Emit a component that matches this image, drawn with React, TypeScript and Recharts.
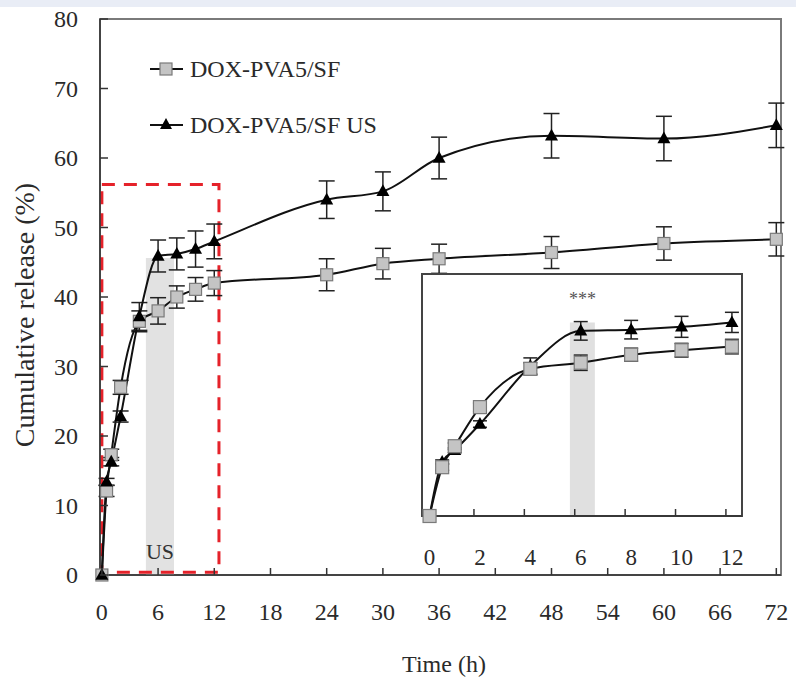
import { ComposedChart, Line, XAxis, YAxis, ErrorBar, ReferenceArea, Legend, Label } from 'recharts';

// cumulative DOX release
const times = [0, 0.5, 1, 2, 4, 6, 8, 10, 12, 24, 30, 36, 48, 60, 72];
const sfRelease = [0, 12.1, 17.3, 27.0, 36.5, 38.0, 40.0, 41.1, 42.0, 43.2, 44.8, 45.5, 46.4, 47.7, 48.3];
const sfError = [0, 0.8, 0.8, 1.0, 1.5, 1.9, 1.6, 1.7, 1.8, 2.3, 2.2, 2.1, 2.3, 2.4, 2.4];
const usRelease = [0, 13.4, 16.3, 22.8, 37.2, 45.9, 46.2, 46.9, 48.0, 54.0, 55.2, 60.0, 63.2, 62.8, 64.7];
const usError = [0, 0.5, 0.6, 0.8, 2.0, 2.3, 2.3, 2.6, 2.5, 2.7, 2.8, 3.0, 3.2, 3.2, 3.2];

const mainTicksX = [0, 6, 12, 18, 24, 30, 36, 42, 48, 54, 60, 66, 72];
const mainTicksY = [0, 10, 20, 30, 40, 50, 60, 70, 80];
const insetTicksX = [0, 2, 4, 6, 8, 10, 12];
const seriesNames = ['DOX-PVA5/SF', 'DOX-PVA5/SF US'];

const data = times.map((t, i) => ({
    time: t,
    sf: sfRelease[i],
    sfErr: sfError[i],
    us: usRelease[i],
    usErr: usError[i],
}));
const insetData = data.filter(d => d.time <= 12);

const FONT = '"Liberation Serif", "Times New Roman", serif';
const TEXT = '#2a2a2a';

const squareDot = (size: number) => (p: any) => {
    if (p.cx == null || p.cy == null) return <g key={`sq-${p.index}`} />;
    return (
        <rect key={`sq-${p.index}`} x={p.cx - size / 2} y={p.cy - size / 2} width={size} height={size}
            fill="#c4c4c4" stroke="#7a7a7a" strokeWidth={1.2} />
    );
};

const triangleDot = (size: number) => (p: any) => {
    if (p.cx == null || p.cy == null) return <g key={`tr-${p.index}`} />;
    const h = size * 0.9;
    const pts = `${p.cx},${p.cy - h * 0.6} ${p.cx - size / 2},${p.cy + h * 0.4} ${p.cx + size / 2},${p.cy + h * 0.4}`;
    return <polygon key={`tr-${p.index}`} points={pts} fill="#000" />;
};

const MainXTick = (p: any) => (
    <g>
        <line x1={p.x} x2={p.x} y1={p.y} y2={p.y - 7} stroke="#333" strokeWidth={1.5} />
        <text x={p.x} y={p.y + 45} textAnchor="middle" fontSize={24} fontFamily={FONT} fill={TEXT}>
            {p.payload.value}
        </text>
    </g>
);

const MainYTick = (p: any) => (
    <g>
        <line x1={p.x} x2={p.x + 8} y1={p.y} y2={p.y} stroke="#333" strokeWidth={1.5} />
        <text x={p.x - 22} y={p.y + 8} textAnchor="end" fontSize={24} fontFamily={FONT} fill={TEXT}>
            {p.payload.value}
        </text>
    </g>
);

const InsetXTick = (p: any) => (
    <g>
        {p.payload.value > 0 && (
            <line x1={p.x - 6} x2={p.x - 6} y1={p.y} y2={p.y - 7} stroke="#333" strokeWidth={1.5} />
        )}
        <text x={p.x} y={p.y + 49} textAnchor="middle" fontSize={23} fontFamily={FONT} fill={TEXT}>
            {p.payload.value}
        </text>
    </g>
);

const renderLegend = (props: any) => {
    const payload = props.payload || [];
    return (
        <svg width={270} height={95}>
            {payload.map((entry: any, i: number) => {
                const y = 17 + i * 56;
                const isSquare = entry.dataKey === 'sf';
                return (
                    <g key={entry.value}>
                        <line x1={2} x2={35} y1={y} y2={y} stroke="#111" strokeWidth={2} />
                        {isSquare
                            ? <rect x={12} y={y - 6} width={12} height={12} fill="#c4c4c4" stroke="#7a7a7a" strokeWidth={1.2} />
                            : <polygon points={`18,${y - 7} 12,${y + 4} 24,${y + 4}`} fill="#000" />}
                        <text x={42} y={y + 8} fontSize={24} fontFamily={FONT} fill={TEXT}>{entry.value}</text>
                    </g>
                );
            })}
        </svg>
    );
};

export default function App() {
    return (
        <div style={{ position: 'absolute', left: 0, top: 0, width: 796, height: 679, background: '#fff', overflow: 'hidden' }}>
            <div style={{ position: 'absolute', left: 0, top: 0, width: 796, height: 7, background: '#e9edf6' }} />

            <div style={{ position: 'absolute', left: 0, top: 0 }}>
                <ComposedChart width={796} height={679} data={data} margin={{ top: 19, right: 15, bottom: 0, left: 0 }}>
                    <ReferenceArea x1={-0.2} x2={72.5} y1={0} y2={80} fill="none" stroke="#7a7a7a" strokeWidth={2} ifOverflow="visible" />
                    <ReferenceArea x1={4.7} x2={7.7} y1={0} y2={45.6} fill="#e2e2e2" fillOpacity={1} stroke="none"
                        label={{ value: 'US', position: 'insideBottom', offset: 16, fill: '#333', fontSize: 22, fontFamily: FONT }} />
                    <XAxis dataKey="time" type="number" domain={[-0.2, 72.5]} ticks={mainTicksX} interval={0}
                        height={104} tickSize={0} tickMargin={0} tickLine={false} tick={MainXTick}
                        axisLine={{ stroke: '#333', strokeWidth: 1.5 }}>
                        <Label content={() => (
                            <text x={444} y={672} textAnchor="middle" fontSize={24} fontFamily={FONT} fill={TEXT}>Time (h)</text>
                        )} />
                    </XAxis>
                    <YAxis type="number" domain={[0, 80]} ticks={mainTicksY} interval={0}
                        width={100} tickSize={0} tickMargin={0} tickLine={false} tick={MainYTick}
                        axisLine={{ stroke: '#333', strokeWidth: 1.5 }}>
                        <Label content={() => (
                            <text transform="translate(34,315) rotate(-90)" textAnchor="middle" fontSize={28} fontFamily={FONT} fill={TEXT}>
                                Cumulative release (%)
                            </text>
                        )} />
                    </YAxis>
                    <Line dataKey="sf" name={seriesNames[0]} type="monotone" stroke="#111" strokeWidth={2}
                        dot={squareDot(12)} activeDot={false} isAnimationActive={false}>
                        <ErrorBar dataKey="sfErr" width={8} stroke="#222" strokeWidth={1.5} direction="y" />
                    </Line>
                    <Line dataKey="us" name={seriesNames[1]} type="monotone" stroke="#111" strokeWidth={2}
                        dot={triangleDot(13)} activeDot={false} isAnimationActive={false}>
                        <ErrorBar dataKey="usErr" width={8} stroke="#222" strokeWidth={1.5} direction="y" />
                    </Line>
                    <ReferenceArea x1={0} x2={12.5} y1={0.4} y2={56.2} fill="none" stroke="#e5222a" strokeWidth={3}
                        strokeDasharray="13 9" ifOverflow="visible" />
                    <Legend layout="vertical" align="center" verticalAlign="middle" content={renderLegend}
                        wrapperStyle={{ left: 148, top: 52, width: 270, height: 95 }} />
                </ComposedChart>
            </div>

            <div style={{ position: 'absolute', left: 422, top: 274, width: 320, height: 242, background: '#fff' }} />
            <div style={{ position: 'absolute', left: 412, top: 264 }}>
                <ComposedChart width={340} height={310} data={insetData} margin={{ top: 10, right: 10, bottom: 18, left: 10 }}>
                    <ReferenceArea x1={5.57} x2={6.56} y1={0} y2={48} fill="#e0e0e0" fillOpacity={1} stroke="none"
                        label={{ value: '***', position: 'top', offset: 17, fill: '#555', fontSize: 18, fontFamily: FONT }} />
                    <ReferenceArea x1={-0.3} x2={12.4} y1={0} y2={60} fill="none" stroke="#444" strokeWidth={2} ifOverflow="visible" />
                    <XAxis dataKey="time" type="number" domain={[-0.3, 12.4]} ticks={insetTicksX} interval={0}
                        height={40} tickSize={0} tickMargin={0} tickLine={false} tick={InsetXTick}
                        axisLine={{ stroke: '#333', strokeWidth: 1.5 }} />
                    <YAxis hide type="number" domain={[0, 60]} />
                    <Line dataKey="us" type="monotone" stroke="#111" strokeWidth={2}
                        dot={triangleDot(13)} activeDot={false} isAnimationActive={false}>
                        <ErrorBar dataKey="usErr" width={7} stroke="#222" strokeWidth={1.5} direction="y" />
                    </Line>
                    <Line dataKey="sf" type="monotone" stroke="#111" strokeWidth={2}
                        dot={squareDot(13)} activeDot={false} isAnimationActive={false}>
                        <ErrorBar dataKey="sfErr" width={7} stroke="#222" strokeWidth={1.5} direction="y" />
                    </Line>
                </ComposedChart>
            </div>
        </div>
    );
}
